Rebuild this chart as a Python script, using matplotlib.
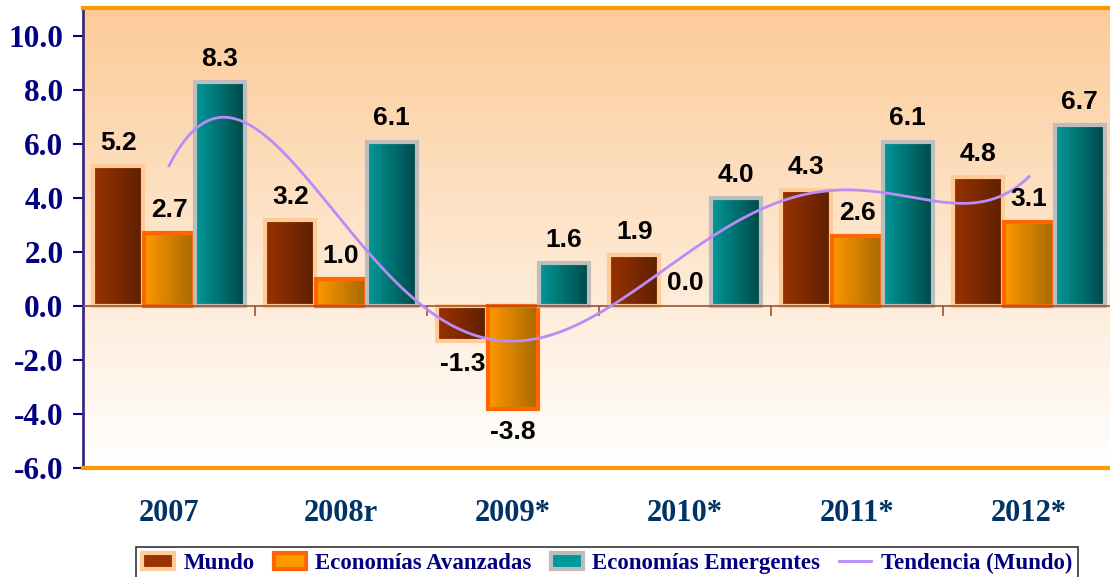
import numpy as np
import matplotlib
matplotlib.use("Agg")
import matplotlib.pyplot as plt
from matplotlib.colors import LinearSegmentedColormap
from matplotlib.patches import Patch
from matplotlib.lines import Line2D

# data
years = ['2007', '2008r', '2009*', '2010*', '2011*', '2012*']
mundo = [5.2, 3.2, -1.3, 1.9, 4.3, 4.8]
avanzadas = [2.7, 1.0, -3.8, 0.0, 2.6, 3.1]
emergentes = [8.3, 6.1, 1.6, 4.0, 6.1, 6.7]
yticks = [-6, -4, -2, 0, 2, 4, 6, 8, 10]

serif = 'Liberation Serif'
sans = 'Liberation Sans'
navy = '#000080'

series = [
    ('Mundo', mundo, '#993300', '#5e2000', '#FFCC99'),
    ('Economías Avanzadas', avanzadas, '#FF9900', '#a86800', '#FF6600'),
    ('Economías Emergentes', emergentes, '#009999', '#004848', '#BDBDBD'),
]

fig = plt.figure(figsize=(11.1, 5.77), dpi=100)
ax = fig.add_axes([83 / 1110, 109 / 577, 1032 / 1110, 460 / 577])
ylo, yhi = -6, 11.05
x = np.arange(len(years))

# background gradient
bg = LinearSegmentedColormap.from_list('bg', ['#FFFFFF', '#FCCB98'])
ax.imshow(np.linspace(0, 1, 256).reshape(-1, 1), extent=[-0.5, 5.5, ylo, yhi],
          origin='lower', aspect='auto', cmap=bg, zorder=0)

width = 0.29
offsets = [-0.295, 0.0, 0.295]
grad = np.linspace(0, 1, 256).reshape(1, -1)
for (name, vals, c1, c2, ec), off in zip(series, offsets):
    cmap = LinearSegmentedColormap.from_list(name, [c1, c2])
    bars = ax.bar(x + off, vals, width, facecolor='none', edgecolor=ec,
                  linewidth=3, zorder=3)
    for b, v in zip(bars, vals):
        x0, y0 = b.get_x(), b.get_y()
        if v == 0:
            b.set_linewidth(0)
        im = ax.imshow(grad, extent=[x0, x0 + b.get_width(), y0, y0 + b.get_height()],
                       aspect='auto', cmap=cmap, zorder=2)
        im.set_clip_path(b)
        if v >= 0:
            ax.annotate(f'{v:.1f}', (x0 + b.get_width() / 2, v), xytext=(0, 8),
                        textcoords='offset points', ha='center', va='bottom',
                        fontsize=19, fontweight='bold', family=sans, zorder=5)
        else:
            ax.annotate(f'{v:.1f}', (x0 + b.get_width() / 2, v), xytext=(0, -8),
                        textcoords='offset points', ha='center', va='top',
                        fontsize=19, fontweight='bold', family=sans, zorder=5)

# trend: 5th order polynomial through Mundo
coef = np.polyfit(x, mundo, 5)
xs = np.linspace(0, 5, 300)
ax.plot(xs, np.polyval(coef, xs), color='#B98CF7', lw=2, zorder=4)

# zero line and group separators
ax.axhline(0, color='#A0522D', lw=1.2, zorder=3.5)
ax.vlines(np.arange(0.5, 5.5), -0.35, 0, color='#A0522D', lw=1.2, zorder=3.5)

ax.set_xlim(-0.5, 5.5)
ax.set_ylim(ylo, yhi)
ax.set_yticks(yticks)
ax.set_yticklabels([f'{t:.1f}' for t in yticks], family=serif, fontweight='bold',
                   fontsize=22.5, color=navy)
ax.set_xticks(x)
ax.set_xticklabels(years, family=serif, fontweight='bold', fontsize=22, color='#003366')
ax.tick_params(axis='x', length=0, pad=22)
ax.tick_params(axis='y', length=7, width=1.5, color=navy, pad=7, direction='out')

for s in ['top', 'bottom', 'right']:
    ax.spines[s].set_color('#FF9900')
    ax.spines[s].set_linewidth(3)
ax.spines['left'].set_color('#3a2a80')
ax.spines['left'].set_linewidth(2)

handles = [Patch(facecolor=c1, edgecolor=ec, linewidth=3) for _, _, c1, _, ec in series]
handles.append(Line2D([], [], color='#B98CF7', lw=2))
labels = [s[0] for s in series] + ['Tendencia (Mundo)']
leg = fig.legend(handles, labels, loc='center', bbox_to_anchor=(607 / 1110, 1 - 563 / 577),
                 ncol=4, frameon=True, fancybox=False, edgecolor='black',
                 handlelength=1.4, handleheight=0.7, handletextpad=0.4, columnspacing=0.85,
                 borderpad=0.25, prop={'family': serif, 'weight': 'bold', 'size': 16.5})
leg.get_frame().set_linewidth(1.2)
for t in leg.get_texts():
    t.set_color(navy)

fig.savefig('out.png', dpi=100)
